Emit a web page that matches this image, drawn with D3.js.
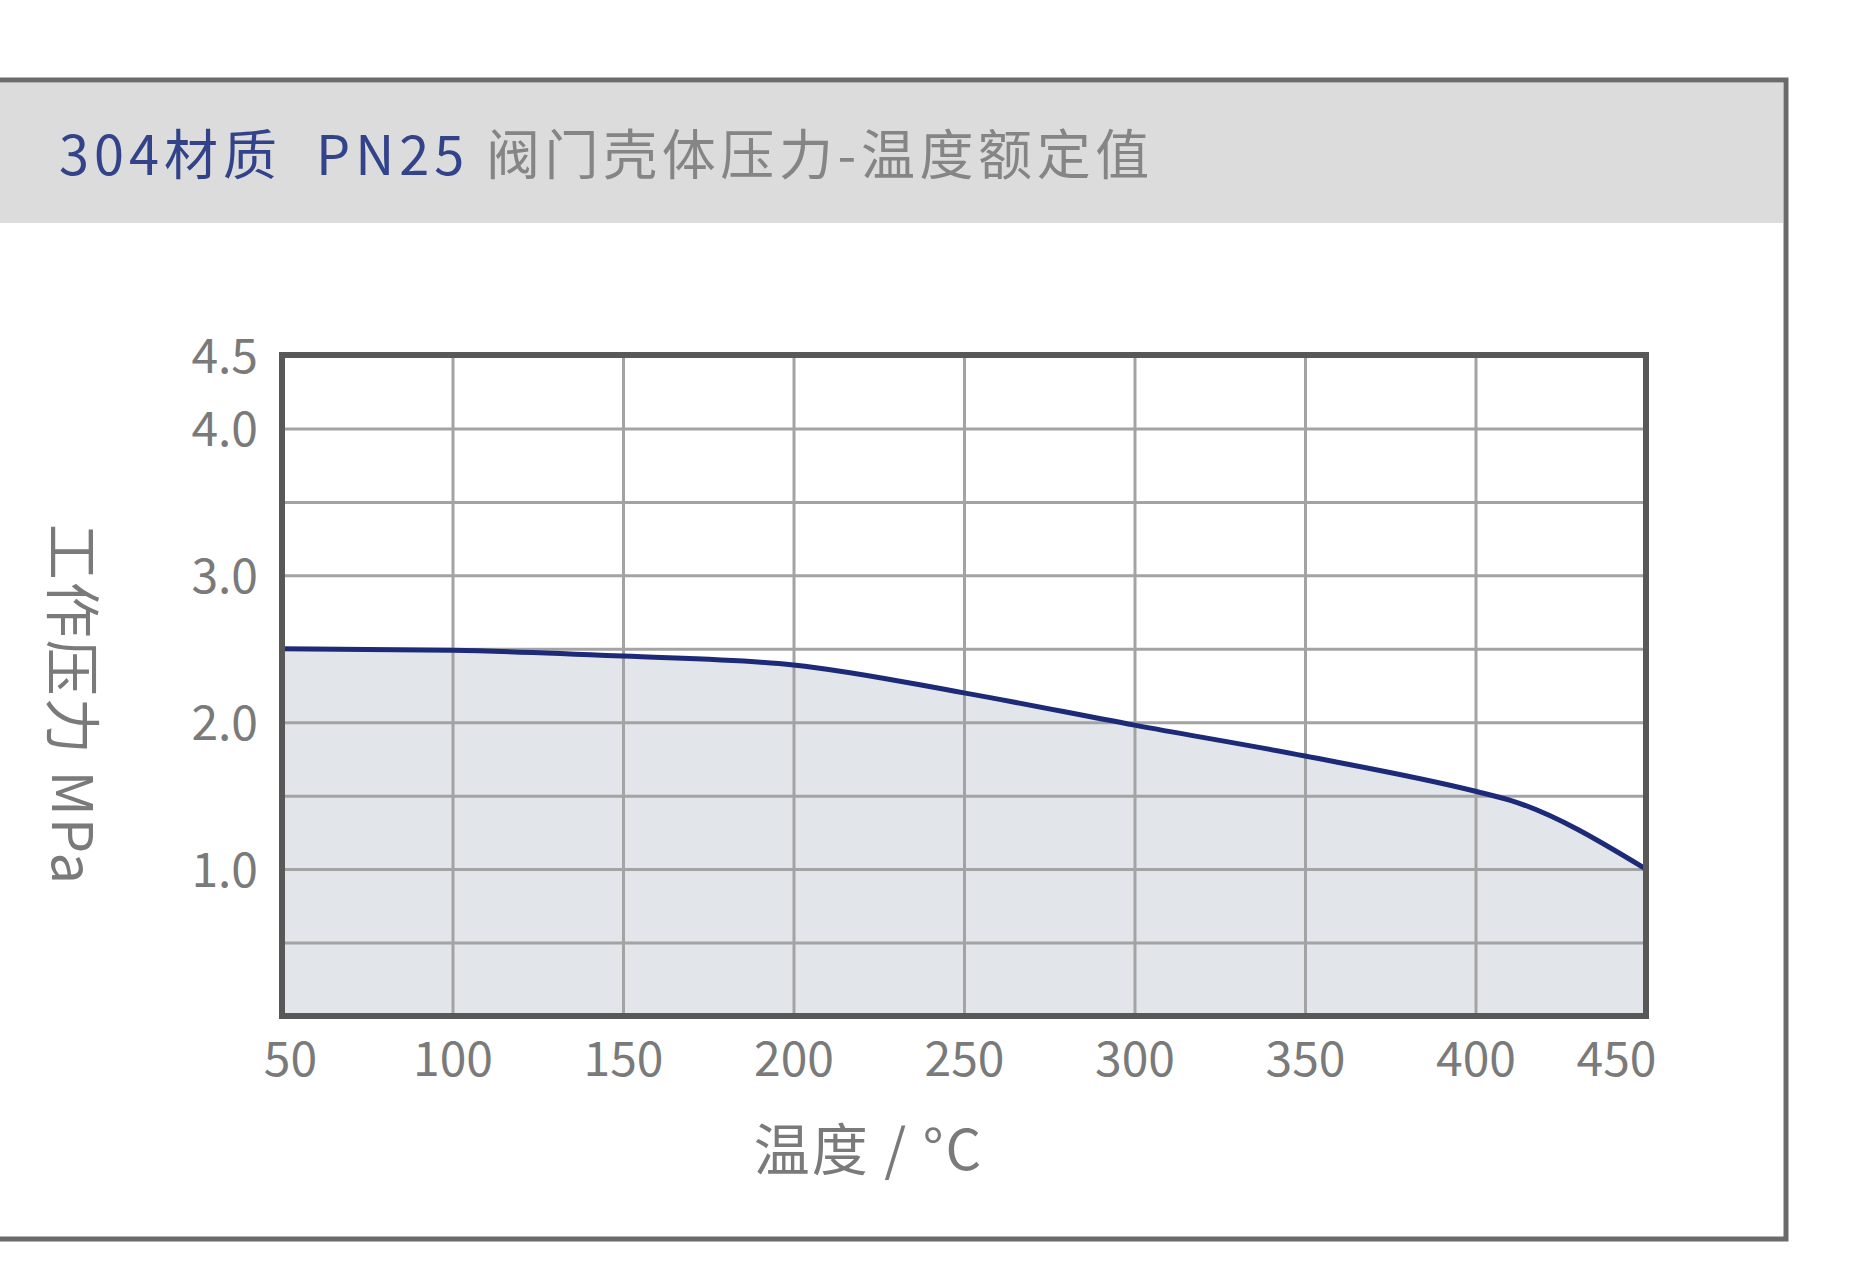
<!DOCTYPE html>
<html>
<head>
<meta charset="utf-8">
<script src="https://cdn.jsdelivr.net/npm/d3@7"></script>
<style>
  html, body { margin: 0; padding: 0; background: #fff; }
  svg { display: block; }
  text { font-family: "Noto Sans CJK SC", "Noto Sans", sans-serif; }
</style>
</head>
<body>
<div id="chart"></div>
<script>
// temperature (°C) and rated pressure (MPa)
var temps = [50, 100, 150, 200, 250, 300, 350, 400, 410, 450];
var pressures = [2.5, 2.49, 2.45, 2.39, 2.2, 1.98, 1.77, 1.53, 1.47, 1.0];

var xTicks = [50, 100, 150, 200, 250, 300, 350, 400, 450];
var yTickLabels = [1.0, 2.0, 3.0, 4.0, 4.5];
var yGridLines = [0.5, 1.0, 1.5, 2.0, 2.5, 3.0, 3.5, 4.0];

var titleMain = '304材质  PN25';
var titleSub = ' 阀门壳体压力-温度额定值';
var xTitle = '温度 / °C';
var yTitle = '工作压力 MPa';

function renderChart(selector) {
    var W = 1856, H = 1264;
    var margin = { top: 355, right: 210, bottom: 248, left: 282 };
    var width = W - margin.left - margin.right,
        height = H - margin.top - margin.bottom;

    var svg = d3.select(selector).append('svg')
        .attr('width', W)
        .attr('height', H);

    svg.append('rect').attr('width', W).attr('height', H).attr('fill', '#fff');

    // outer frame + header band
    svg.append('rect')
        .attr('x', -20).attr('y', 80)
        .attr('width', 1806).attr('height', 1159)
        .attr('fill', 'none')
        .attr('stroke', '#6b6b6b')
        .attr('stroke-width', 5);

    svg.append('rect')
        .attr('x', 0).attr('y', 83)
        .attr('width', 1783).attr('height', 140)
        .attr('fill', '#dcdcdc');

    var title = svg.append('text')
        .attr('x', 59).attr('y', 175)
        .attr('font-size', 54)
        .attr('letter-spacing', 5)
        .style('white-space', 'pre');
    title.append('tspan').attr('fill', '#33438a').text(titleMain);
    title.append('tspan').attr('fill', '#858585').attr('letter-spacing', 4.6).text(titleSub);

    // scales
    var x = d3.scaleLinear().domain([50, 450]).range([0, width]);
    var y = d3.scaleLinear().domain([0, 4.5]).range([height, 0]);

    var g = svg.append('g')
        .attr('transform', 'translate(' + margin.left + ',' + margin.top + ')');

    var data = temps.map(function (t, i) {
        return { t: t, p: pressures[i] };
    });

    // filled area under the rating curve
    var area = d3.area()
        .x(function (d) { return x(d.t); })
        .y0(height)
        .y1(function (d) { return y(d.p); })
        .curve(d3.curveMonotoneX);

    g.append('path')
        .datum(data)
        .attr('d', area)
        .attr('fill', '#e2e5e9');

    // grid
    var gridY = g.append('g')
        .call(d3.axisLeft(y).tickValues(yGridLines).tickSize(-width).tickFormat(''));
    var gridX = g.append('g')
        .call(d3.axisBottom(x).tickValues(xTicks).tickSize(height).tickFormat(''));
    [gridY, gridX].forEach(function (a) {
        a.select('.domain').remove();
        a.selectAll('.tick line')
            .attr('stroke', '#a3a3a3')
            .attr('stroke-width', 3);
    });

    // curve
    var line = d3.line()
        .x(function (d) { return x(d.t); })
        .y(function (d) { return y(d.p); })
        .curve(d3.curveMonotoneX);

    g.append('path')
        .datum(data)
        .attr('d', line)
        .attr('fill', 'none')
        .attr('stroke', '#1c2a78')
        .attr('stroke-width', 5)
        .attr('stroke-linejoin', 'round');

    // plot border
    g.append('rect')
        .attr('width', width).attr('height', height)
        .attr('fill', 'none')
        .attr('stroke', '#585858')
        .attr('stroke-width', 6);

    // tick labels
    var xAxis = g.append('g')
        .attr('transform', 'translate(0,' + height + ')')
        .call(d3.axisBottom(x).tickValues(xTicks).tickSize(0).tickPadding(60).tickFormat(d3.format('d')));
    xAxis.select('.domain').remove();
    xAxis.selectAll('text')
        .attr('font-size', 48)
        .attr('fill', '#7a7a7a')
        .attr('dy', 0)
        .attr('dx', function (d) { return d === 450 ? -30 : (d === 50 ? 8 : 0); });

    var yAxis = g.append('g')
        .call(d3.axisLeft(y).tickValues(yTickLabels).tickSize(0).tickPadding(24).tickFormat(d3.format('.1f')));
    yAxis.select('.domain').remove();
    yAxis.selectAll('text')
        .attr('font-size', 48)
        .attr('fill', '#7a7a7a')
        .attr('dy', '0.36em');

    // axis titles
    svg.append('text')
        .attr('x', margin.left + x(222))
        .attr('y', 1170)
        .attr('text-anchor', 'middle')
        .attr('font-size', 56)
        .attr('letter-spacing', 2)
        .attr('fill', '#7a7a7a')
        .text(xTitle);

    svg.append('text')
        .attr('transform', 'translate(52,705) rotate(90)')
        .attr('text-anchor', 'middle')
        .attr('font-size', 56)
        .attr('letter-spacing', 2)
        .attr('fill', '#7a7a7a')
        .text(yTitle);
}

renderChart('#chart');
</script>
</body>
</html>
